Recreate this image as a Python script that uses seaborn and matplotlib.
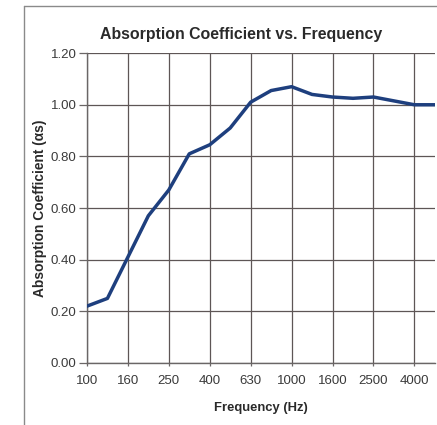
import matplotlib
matplotlib.use("Agg")
import matplotlib.pyplot as plt
import seaborn as sns
import pandas as pd
from matplotlib.lines import Line2D

frequencies = ["100", "125", "160", "200", "250", "315", "400", "500", "630",
               "800", "1000", "1250", "1600", "2000", "2500", "3150", "4000", "5000"]
absorption = [0.22, 0.25, 0.41, 0.57, 0.67, 0.81, 0.845, 0.91, 1.01,
              1.055, 1.07, 1.04, 1.03, 1.025, 1.03, 1.015, 1.00, 1.00]
tick_labels = ["100", "160", "250", "400", "630", "1000", "1600", "2500", "4000"]
y_ticks = [0.0, 0.2, 0.4, 0.6, 0.8, 1.0, 1.2]

sns.set_style("white")
plt.rcParams["font.family"] = ["Liberation Sans", "DejaVu Sans"]

df = pd.DataFrame({"freq": frequencies, "alpha": absorption})

fig = plt.figure(figsize=(4.37, 4.25), dpi=100)
ax = fig.add_axes([0.199, 0.146, 0.796, 0.729])

grid_c = "#5e5656"
sns.lineplot(data=df, x="freq", y="alpha", ax=ax, color="#1e3f7e",
             linewidth=2.5, sort=False, zorder=3)

pos = [frequencies.index(t) for t in tick_labels]
ax.set_xticks(pos)
ax.set_xticklabels(tick_labels)
ax.set_xlim(0, len(frequencies) - 1)
ax.set_ylim(0, 1.2)
ax.set_yticks(y_ticks)
ax.set_yticklabels([f"{v:.2f}" for v in y_ticks])

ax.grid(True, color=grid_c, linewidth=0.9)
for s in ["top", "right"]:
    ax.spines[s].set_visible(False)
for s in ["left", "bottom"]:
    ax.spines[s].set_color("#6a6666")
    ax.spines[s].set_linewidth(1.0)
ax.tick_params(axis="both", labelsize=9.5, labelcolor="#3a3a3a", colors="#6a6666",
               width=0.9, direction="out", left=True, bottom=True)
ax.tick_params(axis="y", length=5.5, pad=2)
ax.tick_params(axis="x", length=2.5, pad=6)

ax.set_xlabel("Frequency (Hz)", fontsize=9.4, fontweight="bold", color="#2a2a2a", labelpad=11)
ax.set_ylabel("Absorption Coefficient (αs)", fontsize=9.9, fontweight="bold", color="#2a2a2a", labelpad=3)

fig.text(0.552, 0.92, "Absorption Coefficient vs. Frequency", ha="center", va="center",
         fontsize=11.4, fontweight="bold", color="#2a2a2a")

# page frame
fig.add_artist(Line2D([24/437, 24/437], [0, 1 - 6/425], color="#8a8a8a", linewidth=1.0))
fig.add_artist(Line2D([24/437, 1], [1 - 6/425, 1 - 6/425], color="#8a8a8a", linewidth=1.0))

fig.savefig("out.png", dpi=100, facecolor="white")
